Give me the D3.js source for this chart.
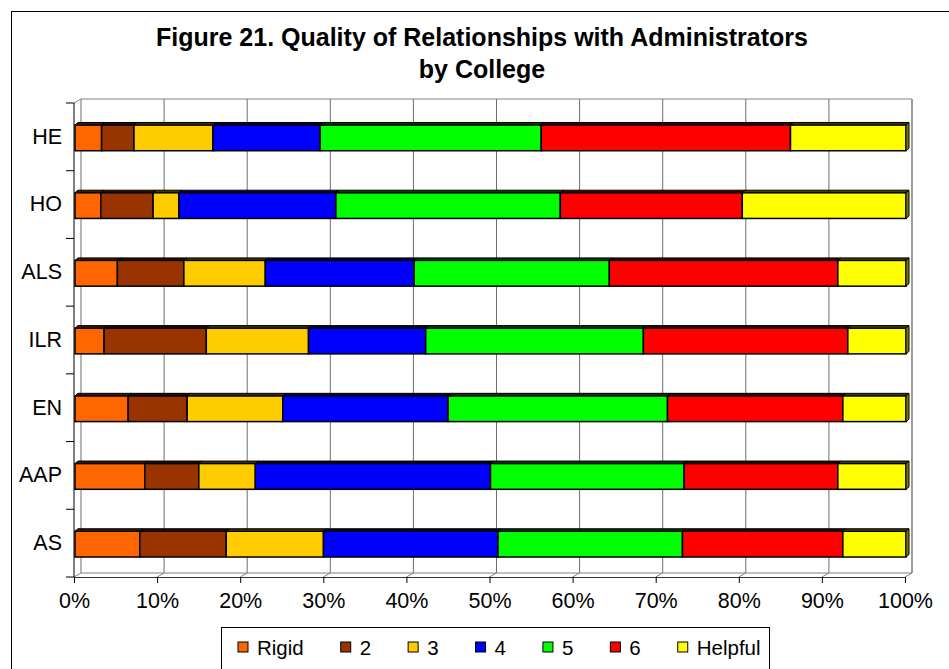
<!DOCTYPE html>
<html>
<head>
<meta charset="utf-8">
<script src="https://cdn.jsdelivr.net/npm/d3@7"></script>
<style>
body { margin: 0; background: #fff; }
text { font-family: "Liberation Sans", Arial, sans-serif; }
</style>
</head>
<body>
<div id="chart"></div>
<script>
var W = 949, H = 669;

// categories, top to bottom
var colleges = ["HE", "HO", "ALS", "ILR", "EN", "AAP", "AS"];
var levels = ["Rigid", "2", "3", "4", "5", "6", "Helpful"];
var colors = ["#ff6600", "#993300", "#ffcc00", "#0000ff", "#00ff00", "#ff0000", "#ffff00"];
var xTicks = [0, 0.1, 0.2, 0.3, 0.4, 0.5, 0.6, 0.7, 0.8, 0.9, 1];

// percent of answers per level, same order as colleges
var rigid   = [3.2, 3.1, 5.1, 3.5, 6.4, 8.4, 7.8];
var lvl2    = [3.9, 6.3, 8.0, 12.3, 7.1, 6.5, 10.4];
var lvl3    = [9.5, 3.1, 9.8, 12.3, 11.5, 6.8, 11.7];
var lvl4    = [12.9, 18.9, 17.9, 14.1, 19.9, 28.3, 21.0];
var lvl5    = [26.6, 27.0, 23.5, 26.2, 26.4, 23.3, 22.2];
var lvl6    = [30.0, 21.9, 27.5, 24.6, 21.1, 18.5, 19.3];
var helpful = [13.9, 19.7, 8.2, 7.0, 7.6, 8.2, 7.6];

var series = [rigid, lvl2, lvl3, lvl4, lvl5, lvl6, helpful];
var rows = colleges.map(function(c, i) {
  var r = {college: c};
  levels.forEach(function(l, j) { r[l] = series[j][i] / 100; });
  return r;
});

var svg = d3.select("#chart").append("svg")
  .attr("width", W)
  .attr("height", H);

// outer chart border
svg.append("rect")
  .attr("x", 11.5).attr("y", 11.5)
  .attr("width", 1000).attr("height", 800)
  .attr("fill", "#fff").attr("stroke", "#000");

// title
svg.append("text")
  .attr("x", 482).attr("y", 46)
  .attr("text-anchor", "middle")
  .attr("font-size", "25px").attr("font-weight", "bold")
  .text("Figure 21. Quality of Relationships with Administrators");
svg.append("text")
  .attr("x", 482).attr("y", 78)
  .attr("text-anchor", "middle")
  .attr("font-size", "25px").attr("font-weight", "bold")
  .text("by College");

var x = d3.scaleLinear().domain([0, 1]).range([74, 905]);
var y = d3.scaleBand().domain(colleges).range([103, 577])
  .paddingInner(0.59).paddingOuter(0.295);

// 3d depth of the walls and of the bars
var DX = 7, DY = -4;
var bdx = 3, bdy = -2.5;
var yTop = y.range()[0], yBot = y.range()[1];

var walls = svg.append("g").attr("stroke", "#808080").attr("fill", "none");
// back wall gridlines
walls.selectAll("line.grid")
  .data(xTicks)
  .enter().append("line")
  .attr("class", "grid")
  .attr("x1", function(d) { return x(d) + DX; })
  .attr("x2", function(d) { return x(d) + DX; })
  .attr("y1", yTop + DY)
  .attr("y2", yBot + DY)
  .attr("stroke", "#6e6e6e");
// floor gridlines
walls.selectAll("line.floor")
  .data(xTicks)
  .enter().append("line")
  .attr("class", "floor")
  .attr("x1", function(d) { return x(d); })
  .attr("x2", function(d) { return x(d) + DX; })
  .attr("y1", yBot)
  .attr("y2", yBot + DY);
walls.append("path")
  .attr("d", "M" + x(0) + "," + yTop + "L" + (x(0) + DX) + "," + (yTop + DY) +
             "H" + (x(1) + DX) + "V" + (yBot + DY) + "H" + (x(0) + DX));

// bars
var stack = d3.stack().keys(levels)(rows);
var barG = svg.append("g");
stack.forEach(function(s, k) {
  var c = colors[k];
  var g = barG.append("g");
  g.selectAll("rect")
    .data(s)
    .enter().append("rect")
    .attr("x", function(d) { return x(d[0]) + 1; })
    .attr("y", function(d) { return y(d.data.college) + 2; })
    .attr("width", function(d) { return x(d[1]) - x(d[0]); })
    .attr("height", y.bandwidth() - 2)
    .attr("fill", c)
    .attr("stroke", "#000")
    .attr("stroke-width", 1.5);
  // top face
  g.selectAll("path.top")
    .data(s)
    .enter().append("path")
    .attr("class", "top")
    .attr("d", function(d) {
      var x0 = x(d[0]) + 1, x1 = x(d[1]) + 1, y0 = y(d.data.college) + 2;
      return "M" + x0 + "," + y0 + "L" + (x0 + bdx) + "," + (y0 + bdy) +
             "H" + (x1 + bdx) + "L" + x1 + "," + y0 + "Z";
    })
    .attr("fill", d3.color(c).darker(4))
    .attr("stroke", "#000")
    .attr("stroke-width", 1);
  if (k === stack.length - 1) {
    // right face of the last segment
    g.selectAll("path.side")
      .data(s)
      .enter().append("path")
      .attr("class", "side")
      .attr("d", function(d) {
        var x1 = x(d[1]) + 1, y0 = y(d.data.college) + 2, y1 = y0 + y.bandwidth() - 2;
        return "M" + x1 + "," + y0 + "L" + (x1 + bdx) + "," + (y0 + bdy) +
               "V" + (y1 + bdy) + "L" + x1 + "," + y1 + "Z";
      })
      .attr("fill", d3.color(c).darker(2))
      .attr("stroke", "#000")
      .attr("stroke-width", 1);
  }
});

// x axis
var xAxis = svg.append("g")
  .attr("transform", "translate(0," + yBot + ")")
  .call(d3.axisBottom(x).tickValues(xTicks).tickFormat(d3.format(".0%"))
    .tickSize(6).tickSizeOuter(0).tickPadding(10));
xAxis.select(".domain").attr("stroke", "#333");
xAxis.selectAll("text")
  .attr("font-size", "21.5px")
  .attr("fill", "#000")
  .style("font-family", '"Liberation Sans", Arial, sans-serif');

// y axis, labels at the middle of each band
var yAxis = svg.append("g")
  .attr("transform", "translate(" + x(0) + ",0)")
  .call(d3.axisLeft(y).tickSize(0).tickPadding(12));
yAxis.select(".domain").attr("stroke", "#000").attr("d", "M0," + yTop + "V" + yBot);
yAxis.selectAll("text")
  .attr("font-size", "21.5px")
  .attr("fill", "#000")
  .style("font-family", '"Liberation Sans", Arial, sans-serif');

// category ticks between bands
svg.append("g").selectAll("line")
  .data(d3.range(colleges.length + 1))
  .enter().append("line")
  .attr("x1", x(0) - 8).attr("x2", x(0))
  .attr("y1", function(i) { return yTop + i * y.step(); })
  .attr("y2", function(i) { return yTop + i * y.step(); })
  .attr("stroke", "#000");

// legend
var legend = svg.append("g").attr("class", "legend");
legend.append("rect")
  .attr("x", 221.5).attr("y", 627.5)
  .attr("width", 548).attr("height", 60)
  .attr("fill", "#fff").attr("stroke", "#000");
var lx = 238;
levels.forEach(function(l, i) {
  legend.append("rect")
    .attr("x", lx).attr("y", 642)
    .attr("width", 10).attr("height", 10)
    .attr("fill", colors[i])
    .attr("stroke", "#000");
  var t = legend.append("text")
    .attr("x", lx + 19).attr("y", 655)
    .attr("font-size", "20.5px")
    .text(l);
  lx += 19 + t.node().getComputedTextLength() + 37;
});
</script>
</body>
</html>
